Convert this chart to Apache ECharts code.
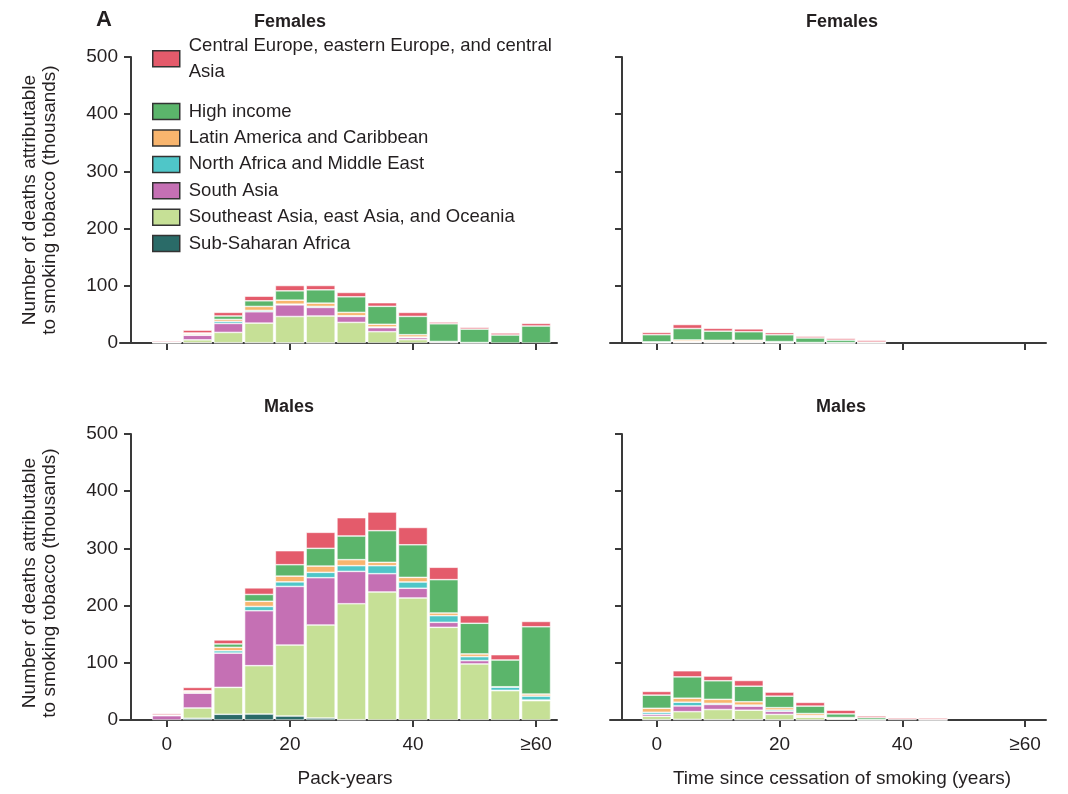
<!DOCTYPE html>
<html>
<head>
<meta charset="utf-8">
<script src="https://cdn.jsdelivr.net/npm/echarts@6/dist/echarts.min.js"></script>
<style>
  html, body { margin: 0; padding: 0; background: #fff; }
  #chart { width: 1068px; height: 794px; }
</style>
</head>
<body>
<div id="chart"></div>
<script>
// Regions, in legend order (top of stack first)
const regions = [
  'Central Europe, eastern Europe, and central Asia',
  'High income',
  'Latin America and Caribbean',
  'North Africa and Middle East',
  'South Asia',
  'Southeast Asia, east Asia, and Oceania',
  'Sub-Saharan Africa'
];
const regionColors = ['#E45B6B', '#5BB56B', '#F8B56E', '#4FC6C8', '#C570B4', '#C6E096', '#2A6B68'];

// Bin starts (pack-years or years since quitting); last bin is ">=60"
const bins = [0, 5, 10, 15, 20, 25, 30, 35, 40, 45, 50, 55, 60];
const tickValues = [0, 20, 40, 60];
const tickLabels = ['0', '20', '40', '≥60'];

// Deaths (thousands) — females by pack-years
const fPackCE   = [2, 5, 6.4, 8.1, 9.3, 7.6, 7.6, 6.4, 7, 3, 3, 3.5, 4.6];
const fPackHI   = [0.5, 1, 6, 9.9, 16.3, 23.3, 27.3, 31.4, 32, 31, 23.5, 14, 29.7];
const fPackLat  = [0.1, 2, 3.5, 7, 7, 5.8, 5.8, 4.7, 4, 0.3, 0.1, 0, 0];
const fPackNAME = [0.1, 1, 3.5, 2.3, 1.2, 1.7, 1.2, 1.2, 1.2, 0.3, 0.1, 0, 0];
const fPackSA   = [0.5, 8, 15.7, 19.8, 20.4, 15, 10.5, 7, 3.5, 1.5, 0.3, 0, 0];
const fPackSEA  = [0.3, 5, 18, 34.3, 46, 47, 36, 19.8, 5.8, 0.5, 0.3, 0, 0];
const fPackSSA  = [0.3, 0.5, 0.5, 0.5, 0.3, 0.2, 0, 0, 0, 0, 0, 0, 0];

// Deaths (thousands) — females by time since cessation
const fQuitCE   = [4, 7, 5, 5, 3.7, 3, 3, 3, 0, 0, 0, 0, 0];
const fQuitHI   = [12.5, 20, 16, 15, 12, 8, 4.5, 1.3, 0, 0, 0, 0, 0];
const fQuitLat  = [0.8, 2.5, 2, 2, 1, 0.3, 0.2, 0.1, 0, 0, 0, 0, 0];
const fQuitNAME = [0.2, 0.5, 0.5, 0.5, 0.3, 0.1, 0.1, 0, 0, 0, 0, 0, 0];
const fQuitSA   = [0.3, 1, 1, 1, 0.5, 0.2, 0.1, 0.1, 0, 0, 0, 0, 0];
const fQuitSEA  = [0.5, 1, 1, 1, 0.5, 0.2, 0.2, 0.1, 0, 0, 0, 0, 0];
const fQuitSSA  = [0.2, 0.3, 0.2, 0.2, 0.1, 0, 0, 0, 0, 0, 0, 0, 0];

// Deaths (thousands) — males by pack-years
const mPackCE   = [2.5, 6, 7, 11.5, 24.5, 28, 32, 32.6, 30.3, 21.6, 13.4, 9.3, 9.3];
const mPackHI   = [0.5, 1, 6, 12, 20, 31, 41.4, 55.4, 57, 58.3, 53.6, 46.8, 117.7];
const mPackLat  = [0.3, 2, 6, 9, 10, 11, 10.5, 5.8, 8, 4.7, 4.7, 0.5, 3.5];
const mPackNAME = [0.3, 1, 4, 7.5, 8, 9.3, 10, 14, 11, 11.7, 7, 5.8, 7];
const mPackSA   = [7.6, 26, 60, 96, 102.5, 82.7, 56.5, 32, 17, 8.7, 5.8, 0.5, 1];
const mPackSEA  = [0, 18, 47, 84.5, 124, 162.6, 202.8, 223.8, 213.3, 162, 98, 51.3, 33.8];
const mPackSSA  = [0, 3, 10, 10.5, 7, 3.5, 0.5, 0, 0, 0, 0, 0, 0];

// Deaths (thousands) — males by time since cessation
const mQuitCE   = [6.5, 10.7, 8.3, 10, 7.1, 6.5, 6.5, 3, 2.5, 2.5, 0, 0, 0];
const mQuitHI   = [23, 37.3, 32.5, 27.2, 20.1, 13, 6.4, 3.5, 1, 0.8, 0, 0, 0];
const mQuitLat  = [7, 7, 7.1, 5.9, 4.1, 3.5, 1.5, 0.1, 0, 0.1, 0, 0, 0];
const mQuitNAME = [3.5, 6.5, 1.8, 1.8, 2.4, 1.2, 0.5, 0.1, 0, 0, 0, 0, 0];
const mQuitSA   = [3.5, 10, 8.9, 7.1, 5.3, 1.8, 0.8, 0.1, 0, 0, 0, 0, 0];
const mQuitSEA  = [6, 13.6, 17.8, 16.6, 9.5, 4.7, 1.5, 0.3, 0, 0.1, 0, 0, 0];
const mQuitSSA  = [0.5, 1, 0.5, 0.5, 0.3, 0.1, 0, 0, 0, 0, 0, 0, 0];

// One entry per panel: values listed in region order
const panels = [
  { stack: 'fPack', values: [fPackCE, fPackHI, fPackLat, fPackNAME, fPackSA, fPackSEA, fPackSSA] },
  { stack: 'fQuit', values: [fQuitCE, fQuitHI, fQuitLat, fQuitNAME, fQuitSA, fQuitSEA, fQuitSSA] },
  { stack: 'mPack', values: [mPackCE, mPackHI, mPackLat, mPackNAME, mPackSA, mPackSEA, mPackSSA] },
  { stack: 'mQuit', values: [mQuitCE, mQuitHI, mQuitLat, mQuitNAME, mQuitSA, mQuitSEA, mQuitSSA] }
];

const FONT = '"Liberation Sans", Arial, sans-serif';
const INK = '#231F20';
const AXIS = '#3a3a3a';

const grids = [
  { left: 120, top: 57, width: 437, height: 286 },
  { left: 610, top: 57, width: 436, height: 286 },
  { left: 120, top: 434, width: 437, height: 286 },
  { left: 610, top: 434, width: 436, height: 286 }
];

const xAxes = grids.map((g, i) => ({
  type: 'value',
  gridIndex: i,
  min: -7.6,
  max: 63.4,
  splitLine: { show: false },
  axisLine: { show: true, onZero: false, lineStyle: { color: AXIS, width: 2 } },
  axisTick: { show: true, customValues: tickValues, length: 7, lineStyle: { color: AXIS, width: 2 } },
  axisLabel: {
    show: i >= 2,
    customValues: tickValues,
    formatter: v => tickLabels[tickValues.indexOf(v)],
    margin: 15,
    fontFamily: FONT, fontSize: 19, color: INK
  }
}));

const yAxes = grids.map((g, i) => ({
  type: 'value',
  gridIndex: i,
  min: 0,
  max: 500,
  interval: 100,
  offset: i % 2 === 0 ? -11 : -12,
  splitLine: { show: false },
  axisLine: { show: true, onZero: false, lineStyle: { color: AXIS, width: 2 } },
  axisTick: { show: true, length: 7, lineStyle: { color: AXIS, width: 2 } },
  axisLabel: {
    show: i % 2 === 0,
    margin: 13,
    fontFamily: FONT, fontSize: 19, color: INK
  }
}));

// Draw each stack bottom-up: last region first.
// Each item is [deaths, bin] so the value dimension comes first and is the one stacked.
// Empty segments are left out so they leave no outline on the axis.
const series = [];
panels.forEach((p, pi) => {
  for (let r = regions.length - 1; r >= 0; r--) {
    series.push({
      type: 'bar',
      name: regions[r],
      xAxisIndex: pi,
      yAxisIndex: pi,
      stack: p.stack,
      barWidth: 29,
      encode: { x: 1, y: 0 },
      data: bins.map((b, k) => [p.values[r][k] > 0 ? p.values[r][k] : '-', b]),
      itemStyle: { color: regionColors[r], borderColor: '#ffffff', borderWidth: 0.6 },
      emphasis: { disabled: true },
      silent: true
    });
  }
});

const LINE = 26.4;
const legendData = regions.map((name, i) => i === 0
  ? { name, textStyle: { padding: [LINE, 0, 0, 4] } }
  : { name });

function label(text, x, y, opts) {
  return {
    type: 'text', x, y,
    style: Object.assign({
      text, fill: INK, textAlign: 'center', textVerticalAlign: 'middle',
      font: '18px ' + FONT
    }, opts || {})
  };
}

const yTitle = 'Number of deaths attributable\nto smoking tobacco (thousands)';

const option = {
  animation: false,
  backgroundColor: '#ffffff',
  grid: grids,
  xAxis: xAxes,
  yAxis: yAxes,
  legend: {
    data: legendData,
    orient: 'vertical',
    left: 152,
    top: 19.2,
    padding: 0,
    itemGap: 0,
    itemWidth: 27,
    itemHeight: 16,
    icon: 'rect',
    selectedMode: false,
    itemStyle: { borderColor: '#333333', borderWidth: 1.5 },
    formatter: name => name === regions[0]
      ? 'Central Europe, eastern Europe, and central\nAsia'
      : name,
    textStyle: {
      fontFamily: FONT, fontSize: 18.5, color: INK,
      lineHeight: LINE, padding: [0, 0, 0, 4]
    }
  },
  graphic: [
    label('A', 104, 20, { font: 'bold 22px ' + FONT }),
    label('Females', 290, 22, { font: 'bold 18px ' + FONT }),
    label('Females', 842, 22, { font: 'bold 18px ' + FONT }),
    label('Males', 289, 407, { font: 'bold 18px ' + FONT }),
    label('Males', 841, 407, { font: 'bold 18px ' + FONT }),
    Object.assign(label(yTitle, 40, 200, { font: '19px ' + FONT, lineHeight: 20 }), { rotation: Math.PI / 2 }),
    Object.assign(label(yTitle, 40, 583, { font: '19px ' + FONT, lineHeight: 20 }), { rotation: Math.PI / 2 }),
    label('Pack-years', 345, 779, { font: '19px ' + FONT }),
    label('Time since cessation of smoking (years)', 842, 779, { font: '19px ' + FONT })
  ],
  series
};

const chart = echarts.init(document.getElementById('chart'), null, { renderer: 'canvas' });
chart.setOption(option);
</script>
</body>
</html>
